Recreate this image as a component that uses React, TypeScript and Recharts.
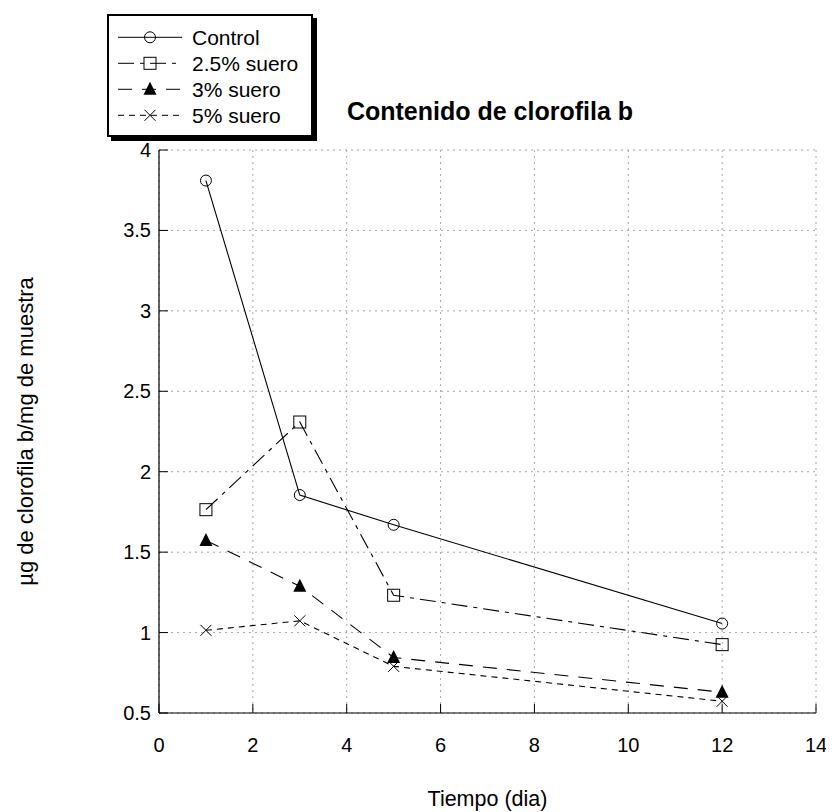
import { LineChart, Line, XAxis, YAxis, CartesianGrid, Legend } from 'recharts';

// días de muestreo
const days = [1, 3, 5, 12];

// µg de clorofila b / mg de muestra
const control = [3.81, 1.855, 1.67, 1.056];
const suero25 = [1.764, 2.309, 1.232, 0.925];
const suero3 = [1.573, 1.288, 0.845, 0.629];
const suero5 = [1.014, 1.073, 0.79, 0.573];

const xTicks = [0, 2, 4, 6, 8, 10, 12, 14];
const yTicks = [0.5, 1, 1.5, 2, 2.5, 3, 3.5, 4];

const seriesNames = ['Control', '2.5% suero', '3% suero', '5% suero'];

const data = days.map((d, i) => ({
  dia: d,
  control: control[i],
  s25: suero25[i],
  s3: suero3[i],
  s5: suero5[i],
}));

const FONT = '"Liberation Sans", Arial, Helvetica, sans-serif';
const TICK_LEN = 9;

type MarkerKind = 'circle' | 'square' | 'triangle' | 'cross';

const series: { key: string; name: string; dash?: string; marker: MarkerKind }[] = [
  { key: 'control', name: seriesNames[0], marker: 'circle' },
  { key: 's25', name: seriesNames[1], dash: '16 6 4 6', marker: 'square' },
  { key: 's3', name: seriesNames[2], dash: '14 10', marker: 'triangle' },
  { key: 's5', name: seriesNames[3], dash: '6 5', marker: 'cross' },
];

function Marker({ kind, cx, cy }: { kind: MarkerKind; cx: number; cy: number }) {
  if (kind === 'circle') {
    return <circle cx={cx} cy={cy} r={5.5} fill="none" stroke="#000" strokeWidth={1} />;
  }
  if (kind === 'square') {
    return <rect x={cx - 6} y={cy - 6} width={12} height={12} fill="none" stroke="#000" strokeWidth={1} />;
  }
  if (kind === 'triangle') {
    return <polygon points={`${cx},${cy - 7.5} ${cx - 6.5},${cy + 5.5} ${cx + 6.5},${cy + 5.5}`} fill="#000" />;
  }
  return (
    <g stroke="#000" strokeWidth={1}>
      <line x1={cx - 5.5} y1={cy - 5.5} x2={cx + 5.5} y2={cy + 5.5} />
      <line x1={cx - 5.5} y1={cy + 5.5} x2={cx + 5.5} y2={cy - 5.5} />
    </g>
  );
}

const makeDot = (kind: MarkerKind) => (props: any) => {
  const { cx, cy, index, dataKey } = props;
  if (cx == null || cy == null) return <g key={`${dataKey}-${index}`} />;
  return (
    <g key={`${dataKey}-${index}`}>
      <Marker kind={kind} cx={cx} cy={cy} />
    </g>
  );
};

const BottomTick = (props: any) => {
  const { x, y, payload } = props;
  return (
    <g>
      <line x1={x} y1={y} x2={x} y2={y - TICK_LEN} stroke="#000" />
      <text x={x} y={y + 32} textAnchor="middle" dominantBaseline="central" fontSize={20} fontFamily={FONT} fill="#000">
        {payload.value}
      </text>
    </g>
  );
};

const TopTick = (props: any) => {
  const { x, y } = props;
  return <line x1={x} y1={y} x2={x} y2={y + TICK_LEN} stroke="#000" />;
};

const LeftTick = (props: any) => {
  const { x, y, payload } = props;
  return (
    <g>
      <line x1={x} y1={y} x2={x + TICK_LEN} y2={y} stroke="#000" />
      <text x={x - 8} y={y} textAnchor="end" dominantBaseline="central" fontSize={20} fontFamily={FONT} fill="#000">
        {payload.value}
      </text>
    </g>
  );
};

const RightTick = (props: any) => {
  const { x, y } = props;
  return <line x1={x} y1={y} x2={x - TICK_LEN} y2={y} stroke="#000" />;
};

const LegendBox = () => (
  <div
    style={{
      width: 202,
      height: 119,
      border: '2px solid #000',
      boxShadow: '4px 4px 0 #000',
      background: '#fff',
    }}
  >
    <svg width={202} height={119}>
      {series.map((s, i) => {
        const y = 21.3 + i * 26;
        return (
          <g key={s.key}>
            <line x1={9} y1={y} x2={73} y2={y} stroke="#000" strokeWidth={1} strokeDasharray={s.dash} />
            <Marker kind={s.marker} cx={41} cy={y} />
            <text x={83} y={y} dominantBaseline="central" fontSize={21} fontFamily={FONT} fill="#000">
              {s.name}
            </text>
          </g>
        );
      })}
    </svg>
  </div>
);

export default function App() {
  return (
    <div style={{ position: 'relative', width: 826, height: 804, fontFamily: FONT }}>
      <div
        style={{
          position: 'absolute',
          left: 282,
          top: 88,
          width: 400,
          textAlign: 'center',
          fontSize: 25,
          lineHeight: '30px',
          fontWeight: 'bold',
          color: '#000',
        }}
      >
        Contenido de clorofila b
      </div>
      <LineChart width={826} height={804} data={data} margin={{ top: 142, right: 18, bottom: 49, left: 0 }}>
        <CartesianGrid stroke="#a8a8a8" strokeDasharray="2 4" strokeWidth={1} />
        <XAxis
          dataKey="dia"
          type="number"
          domain={[0, 14]}
          ticks={xTicks}
          height={50}
          tickSize={0}
          tickMargin={0}
          tickLine={false}
          axisLine={{ stroke: '#000', strokeWidth: 1.2 }}
          tick={BottomTick}
          interval={0}
          label={{
            content: (p: any) => {
              const vb = p.viewBox;
              return (
                <text x={vb.x + vb.width / 2} y={vb.y + 86} textAnchor="middle" dominantBaseline="central" fontSize={21.5} fontFamily={FONT} fill="#000">
                  Tiempo (dia)
                </text>
              );
            },
          }}
        />
        <XAxis
          xAxisId="top"
          orientation="top"
          type="number"
          domain={[0, 14]}
          ticks={xTicks}
          height={0}
          tickSize={0}
          tickMargin={0}
          tickLine={false}
          axisLine={{ stroke: '#000', strokeWidth: 1.2 }}
          tick={TopTick}
          interval={0}
        />
        <YAxis
          type="number"
          domain={[0.5, 4]}
          ticks={yTicks}
          width={151}
          tickSize={0}
          tickMargin={0}
          tickLine={false}
          axisLine={{ stroke: '#000', strokeWidth: 1.2 }}
          tick={LeftTick}
          interval={0}
          label={{
            content: (p: any) => {
              const vb = p.viewBox;
              const cx = vb.x + 17;
              const cy = vb.y + vb.height / 2;
              return (
                <text x={cx} y={cy} transform={`rotate(-90 ${cx} ${cy})`} textAnchor="middle" dominantBaseline="central" fontSize={22} fontFamily={FONT} fill="#000">
                  µg de clorofila b/mg de muestra
                </text>
              );
            },
          }}
        />
        <YAxis
          yAxisId="right"
          orientation="right"
          type="number"
          domain={[0.5, 4]}
          ticks={yTicks}
          width={0}
          tickSize={0}
          tickMargin={0}
          tickLine={false}
          axisLine={{ stroke: '#000', strokeWidth: 1.2 }}
          tick={RightTick}
          interval={0}
        />
        <Legend
          layout="horizontal"
          verticalAlign="middle"
          align="center"
          wrapperStyle={{ left: 99, top: 6, width: 'auto' }}
          content={LegendBox}
        />
        {series.map((s) => (
          <Line
            key={s.key}
            type="linear"
            dataKey={s.key}
            name={s.name}
            stroke="#000"
            strokeWidth={1.1}
            strokeDasharray={s.dash}
            dot={makeDot(s.marker)}
            activeDot={false}
            isAnimationActive={false}
          />
        ))}
      </LineChart>
    </div>
  );
}
